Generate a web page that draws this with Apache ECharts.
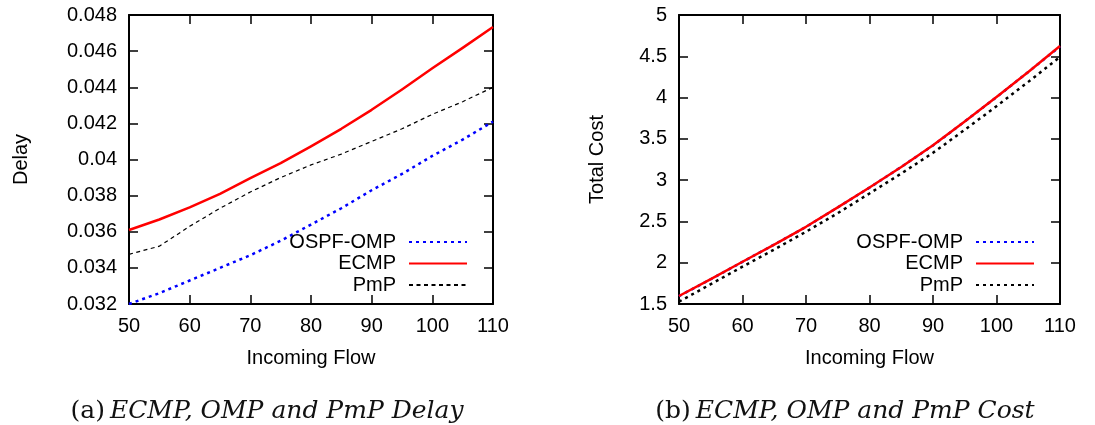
<!DOCTYPE html>
<html>
<head>
<meta charset="utf-8">
<script src="https://cdn.jsdelivr.net/npm/echarts@6/dist/echarts.min.js"></script>
<style>
html,body{margin:0;padding:0;background:#fff;}
#c{width:1095px;height:425px;}
</style>
</head>
<body>
<div id="c"></div>
<script>
// Shared x values (Incoming Flow)
const flow = [50, 55, 60, 65, 70, 75, 80, 85, 90, 95, 100, 105, 110];

// (a) Delay
const delayOSPF = [0.0320, 0.0326, 0.0333, 0.0340, 0.0347, 0.0355, 0.0364, 0.0373, 0.0383, 0.0392, 0.0402, 0.0411, 0.0421];
const delayECMP = [0.0361, 0.03668, 0.03735, 0.0381, 0.03897, 0.0398, 0.04073, 0.0417, 0.04275, 0.04388, 0.04505, 0.04618, 0.04734];
const delayPmP  = [0.03475, 0.0352, 0.0363, 0.0373, 0.0382, 0.0390, 0.0397, 0.0403, 0.0410, 0.0417, 0.0425, 0.0432, 0.0440];

// (b) Total Cost
const costOSPF = [1.595, 1.80, 2.01, 2.22, 2.433, 2.67, 2.909, 3.16, 3.42, 3.71, 4.005, 4.31, 4.62];
const costECMP = [1.597, 1.80, 2.012, 2.22, 2.435, 2.67, 2.911, 3.16, 3.423, 3.71, 4.008, 4.31, 4.625];
const costPmP  = [1.528, 1.74, 1.952, 2.16, 2.375, 2.60, 2.839, 3.08, 3.331, 3.61, 3.895, 4.19, 4.492];

const seriesNames = ['OSPF-OMP', 'ECMP', 'PmP'];
const captions = ['ECMP, OMP and PmP Delay', 'ECMP, OMP and PmP Cost'];

const pair = (ys) => flow.map((x, i) => [x, ys[i]]);
const FONT = 'Liberation Sans, Arial, Helvetica, sans-serif';
const SERIF = 'DejaVu Serif, serif';
const black = '#000';

function xAxes(gi) {
  return [
    { gridIndex: gi, type: 'value', min: 50, max: 110, interval: 10, position: 'bottom',
      name: 'Incoming Flow', nameLocation: 'middle', nameGap: 44,
      nameTextStyle: { color: black, fontSize: 20, fontFamily: FONT },
      axisLine: { show: true, lineStyle: { color: black, width: 2 } },
      axisTick: { show: true, inside: true, length: 9, lineStyle: { color: black, width: 1.5 } },
      axisLabel: { color: black, fontSize: 20, fontFamily: FONT, margin: 12 },
      splitLine: { show: false } },
    { gridIndex: gi, type: 'value', min: 50, max: 110, interval: 10, position: 'top',
      axisLine: { show: true, lineStyle: { color: black, width: 2 } },
      axisTick: { show: true, inside: true, length: 9, lineStyle: { color: black, width: 1.5 } },
      axisLabel: { show: false }, splitLine: { show: false } }
  ];
}
function yAxes(gi, min, max, interval, name, gap) {
  return [
    { gridIndex: gi, type: 'value', min: min, max: max, interval: interval, position: 'left',
      name: name, nameLocation: 'middle', nameGap: gap,
      nameTextStyle: { color: black, fontSize: 20, fontFamily: FONT },
      axisLine: { show: true, lineStyle: { color: black, width: 2 } },
      axisTick: { show: true, inside: true, length: 9, lineStyle: { color: black, width: 1.5 } },
      axisLabel: { color: black, fontSize: 20, fontFamily: FONT, margin: 12 },
      splitLine: { show: false } },
    { gridIndex: gi, type: 'value', min: min, max: max, interval: interval, position: 'right',
      axisLine: { show: true, lineStyle: { color: black, width: 2 } },
      axisTick: { show: true, inside: true, length: 9, lineStyle: { color: black, width: 1.5 } },
      axisLabel: { show: false }, splitLine: { show: false } }
  ];
}

const styles = [
  { color: '#0000ff', width: 2.5, type: [3, 4] },
  { color: '#ff0000', width: 2.5, type: 'solid' },
  { color: '#000000', width: 1.2, type: [4, 3.5] }
];
const stylesB = [
  { color: '#0000ff', width: 2.5, type: [3, 4] },
  { color: '#ff0000', width: 2.5, type: 'solid' },
  { color: '#000000', width: 2.5, type: [3, 4] }
];

function mk(name, data, gi, st, z) {
  return { name: name, type: 'line', xAxisIndex: gi * 2, yAxisIndex: gi * 2, data: pair(data),
    symbol: 'none', smooth: false, z: z,
    lineStyle: { color: st.color, width: st.width, type: st.type, join: 'round' },
    itemStyle: { color: st.color }, animation: false };
}

const series = [
  mk(seriesNames[0], delayOSPF, 0, styles[0], 2),
  mk(seriesNames[1], delayECMP, 0, styles[1], 3),
  mk(seriesNames[2], delayPmP, 0, styles[2], 2),
  mk(seriesNames[0] + ' ', costOSPF, 1, stylesB[0], 2),
  mk(seriesNames[1] + ' ', costECMP, 1, stylesB[1], 3),
  mk(seriesNames[2] + ' ', costPmP, 1, stylesB[2], 2)
];

function legend(names, right) {
  return { data: names, orient: 'vertical', align: 'right', right: right, top: 232,
    padding: 0, itemGap: 1.5, itemWidth: 58, itemHeight: 14, selectedMode: false,
    formatter: (n) => n.trim(),
    itemStyle: { color: 'rgba(0,0,0,0)', borderWidth: 0, opacity: 0 },
    textStyle: { color: black, fontSize: 20, fontFamily: FONT, padding: [0, 8, 0, 0] } };
}

function caption(letter, text, center) {
  return { text: '{u|(' + letter + ')} {i|' + text + '}', left: center, top: 394, textAlign: 'center',
    textStyle: { fontWeight: 'normal', rich: {
      u: { fontFamily: SERIF, fontSize: 25, color: '#111', fontWeight: 'normal' },
      i: { fontFamily: SERIF, fontStyle: 'italic', fontSize: 25, color: '#111', fontWeight: 'normal' } } } };
}

const chart = echarts.init(document.getElementById('c'), null, { renderer: 'canvas' });
chart.setOption({
  backgroundColor: '#fff',
  animation: false,
  grid: [
    { left: 129, top: 15, width: 364, height: 289 },
    { left: 679, top: 15, width: 381, height: 289 }
  ],
  xAxis: [...xAxes(0), ...xAxes(1)],
  yAxis: [...yAxes(0, 0.032, 0.048, 0.002, 'Delay', 98), ...yAxes(1, 1.5, 5, 0.5, 'Total Cost', 72)],
  legend: [
    legend(seriesNames, 627),
    legend(seriesNames.map(n => n + ' '), 60)
  ],
  title: [ caption('a', captions[0], 262), caption('b', captions[1], 840) ],
  series: series
});
</script>
</body>
</html>
